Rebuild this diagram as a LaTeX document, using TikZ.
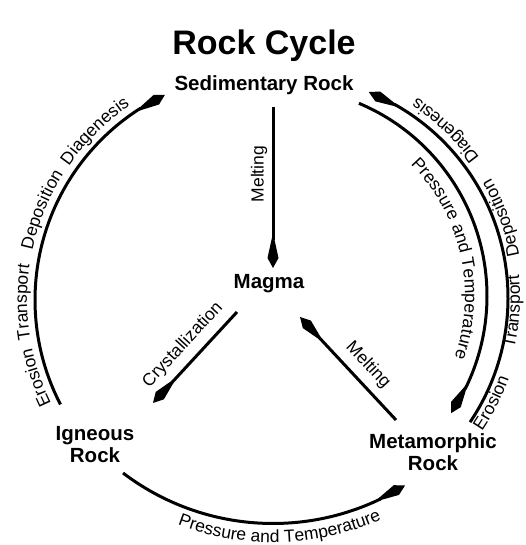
\documentclass[tikz,border=0pt]{standalone}
\usepackage{fontspec}
\setmainfont{Liberation Sans}
\usetikzlibrary{arrows.meta,bending,decorations.text}
\newcommand\lblfont{\fontsize{17.5}{20}\selectfont}
\begin{document}
\begin{tikzpicture}[x=1pt,y=1pt,
  rock/.style={font=\fontsize{20.5}{22}\selectfont\bfseries, align=center, inner sep=0pt},
  flow/.style={line width=3pt, -{Kite[length=35pt,width=11pt,inset=25pt]}},
  lbl/.style={font=\lblfont, inner sep=0pt},
  arclbl/.style={decorate, decoration={text along path, text={|\lblfont|#1}, text align=center}}
]
\useasboundingbox (0,0) rectangle (525,545);
% rock nodes
\node[font=\fontsize{34}{40}\selectfont\bfseries] (title) at (264,499) {Rock Cycle};
\node[rock] (sed) at (264,460) {Sedimentary Rock};
\node[rock] (magma) at (269,261) {Magma};
\node[rock] (ign) at (95,100) {Igneous\\Rock};
\node[rock] (meta) at (433,93) {Metamorphic\\Rock};
% centres of arcs
\coordinate (c1) at (262,245);
\coordinate (c2i) at (278,249);
\coordinate (c2o) at (286,247);
\coordinate (c3) at (273,269.5);
% straight arrow endpoints
\coordinate (melt1s) at (273,438);
\coordinate (melt1e) at (273,277);
\coordinate (crys) at (237,233);
\coordinate (cryse) at (153,142);
\coordinate (melt2s) at (396,125);
\coordinate (melt2e) at (300,228);
% straight arrows
\draw[flow] (melt1s) -- (melt1e);
\draw[flow] (crys) -- (cryse);
\draw[flow] (melt2s) -- (melt2e);
\node[lbl, rotate=90] (lmelt1) at (259,371) {Melting};
\node[lbl, rotate=47.3] (lcrys) at (183,200) {Crystallization};
\node[lbl, rotate=-47] (lmelt2) at (368,180) {Melting};
% arcs
\draw[flow] ([shift={(207.4:227)}]c1) arc[start angle=207.4, end angle=115.3, radius=227];
\draw[flow] ([shift={(67.2:209)}]c2i) arc[start angle=67.2, end angle=-34.1, radius=209];
\draw[flow] ([shift={(-34:222)}]c2o) arc[start angle=-34, end angle=68.1, radius=222];
\draw[flow] ([shift={(232.8:248)}]c3) arc[start angle=232.8, end angle=302.2, radius=248];
% left arc labels
\path[arclbl=Erosion] ([shift={(224:235)}]c1) arc[start angle=224, end angle=174, radius=235];
\path[arclbl=Transport] ([shift={(205.5:235)}]c1) arc[start angle=205.5, end angle=155.5, radius=235];
\path[arclbl=Deposition] ([shift={(182.7:235)}]c1) arc[start angle=182.7, end angle=132.7, radius=235];
\path[arclbl=Diagenesis] ([shift={(159.7:235)}]c1) arc[start angle=159.7, end angle=109.7, radius=235];
% outer right labels
\path[arclbl=Erosion] ([shift={(-52:237)}]c2o) arc[start angle=-52, end angle=-2, radius=237];
\path[arclbl=Transport] ([shift={(-28.4:234)}]c2o) arc[start angle=-28.4, end angle=21.6, radius=234];
\path[arclbl=Deposition] ([shift={(-4.7:237)}]c2o) arc[start angle=-4.7, end angle=45.3, radius=237];
\path[arclbl=Diagenesis] ([shift={(21.4:239)}]c2o) arc[start angle=21.4, end angle=71.4, radius=239];
% inner right label
\path[arclbl=Pressure and Temperature] ([shift={(67.8:187)}]c2i) arc[start angle=67.8, end angle=-42.2, radius=187];
% bottom label
\path[arclbl=Pressure and Temperature] ([shift={(226.5:267)}]c3) arc[start angle=226.5, end angle=316.5, radius=267];
\end{tikzpicture}
\end{document}
